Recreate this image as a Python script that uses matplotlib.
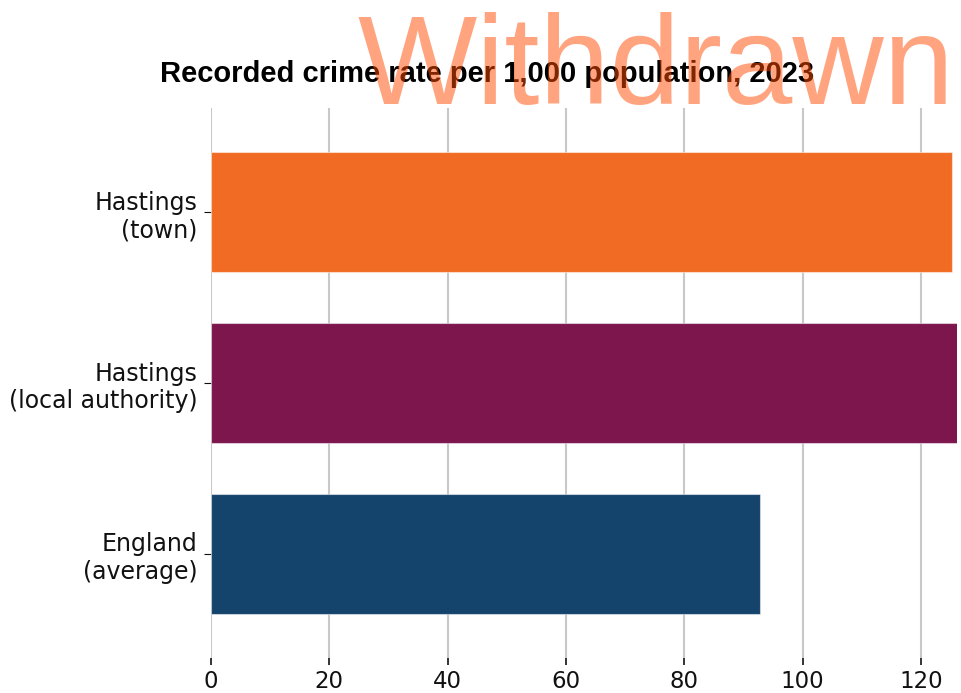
import matplotlib
matplotlib.use("Agg")
import matplotlib.pyplot as plt

# data
areas = ["Hastings\n(town)", "Hastings\n(local authority)", "England\n(average)"]
crime_rate = [125.3, 128.0, 92.8]
bar_colors = ["#F26B25", "#7D164D", "#14436B"]
x_ticks = [0, 20, 40, 60, 80, 100, 120]

W, H = 961, 693
fig = plt.figure(figsize=(W / 100, H / 100), dpi=100)
ax = fig.add_axes([211 / W, 1 - 658 / H, (957 - 211) / W, (658 - 108) / H])

ypos = list(range(len(areas)))
ax.barh(ypos, crime_rate, height=0.7, color=bar_colors,
        edgecolor=(1, 1, 1, 0.5), linewidth=0.8, zorder=2)

ax.set_xlim(0, 126.1)
ax.set_ylim(len(areas) - 0.39, -0.61)
ax.set_yticks(ypos)
ax.set_yticklabels(areas, fontsize=17, family="DejaVu Sans")
ax.set_xticks(x_ticks)
ax.set_xticklabels([str(t) for t in x_ticks], fontsize=16.5, family="DejaVu Sans")
ax.tick_params(axis="y", length=5, width=0.8, pad=4.5, colors="#111111")
ax.tick_params(axis="x", length=5, width=1.2, pad=4, colors="#111111")
ax.grid(axis="x", color="#c8c8c8", linewidth=1.5, zorder=0)
ax.set_axisbelow(True)
for s in ax.spines.values():
    s.set_visible(False)

fig.text(487 / W, 1 - 82 / H, "Recorded crime rate per 1,000 population, 2023",
         ha="center", va="baseline", fontsize=21, fontweight="bold",
         family="Liberation Sans", color="black")

# watermark
fig.text(656 / W, 1 - 104 / H, "Withdrawn", ha="center", va="baseline",
         fontsize=91, family="Liberation Sans", color="#FF4A00", alpha=0.5)

fig.savefig("out.png", dpi=100)
